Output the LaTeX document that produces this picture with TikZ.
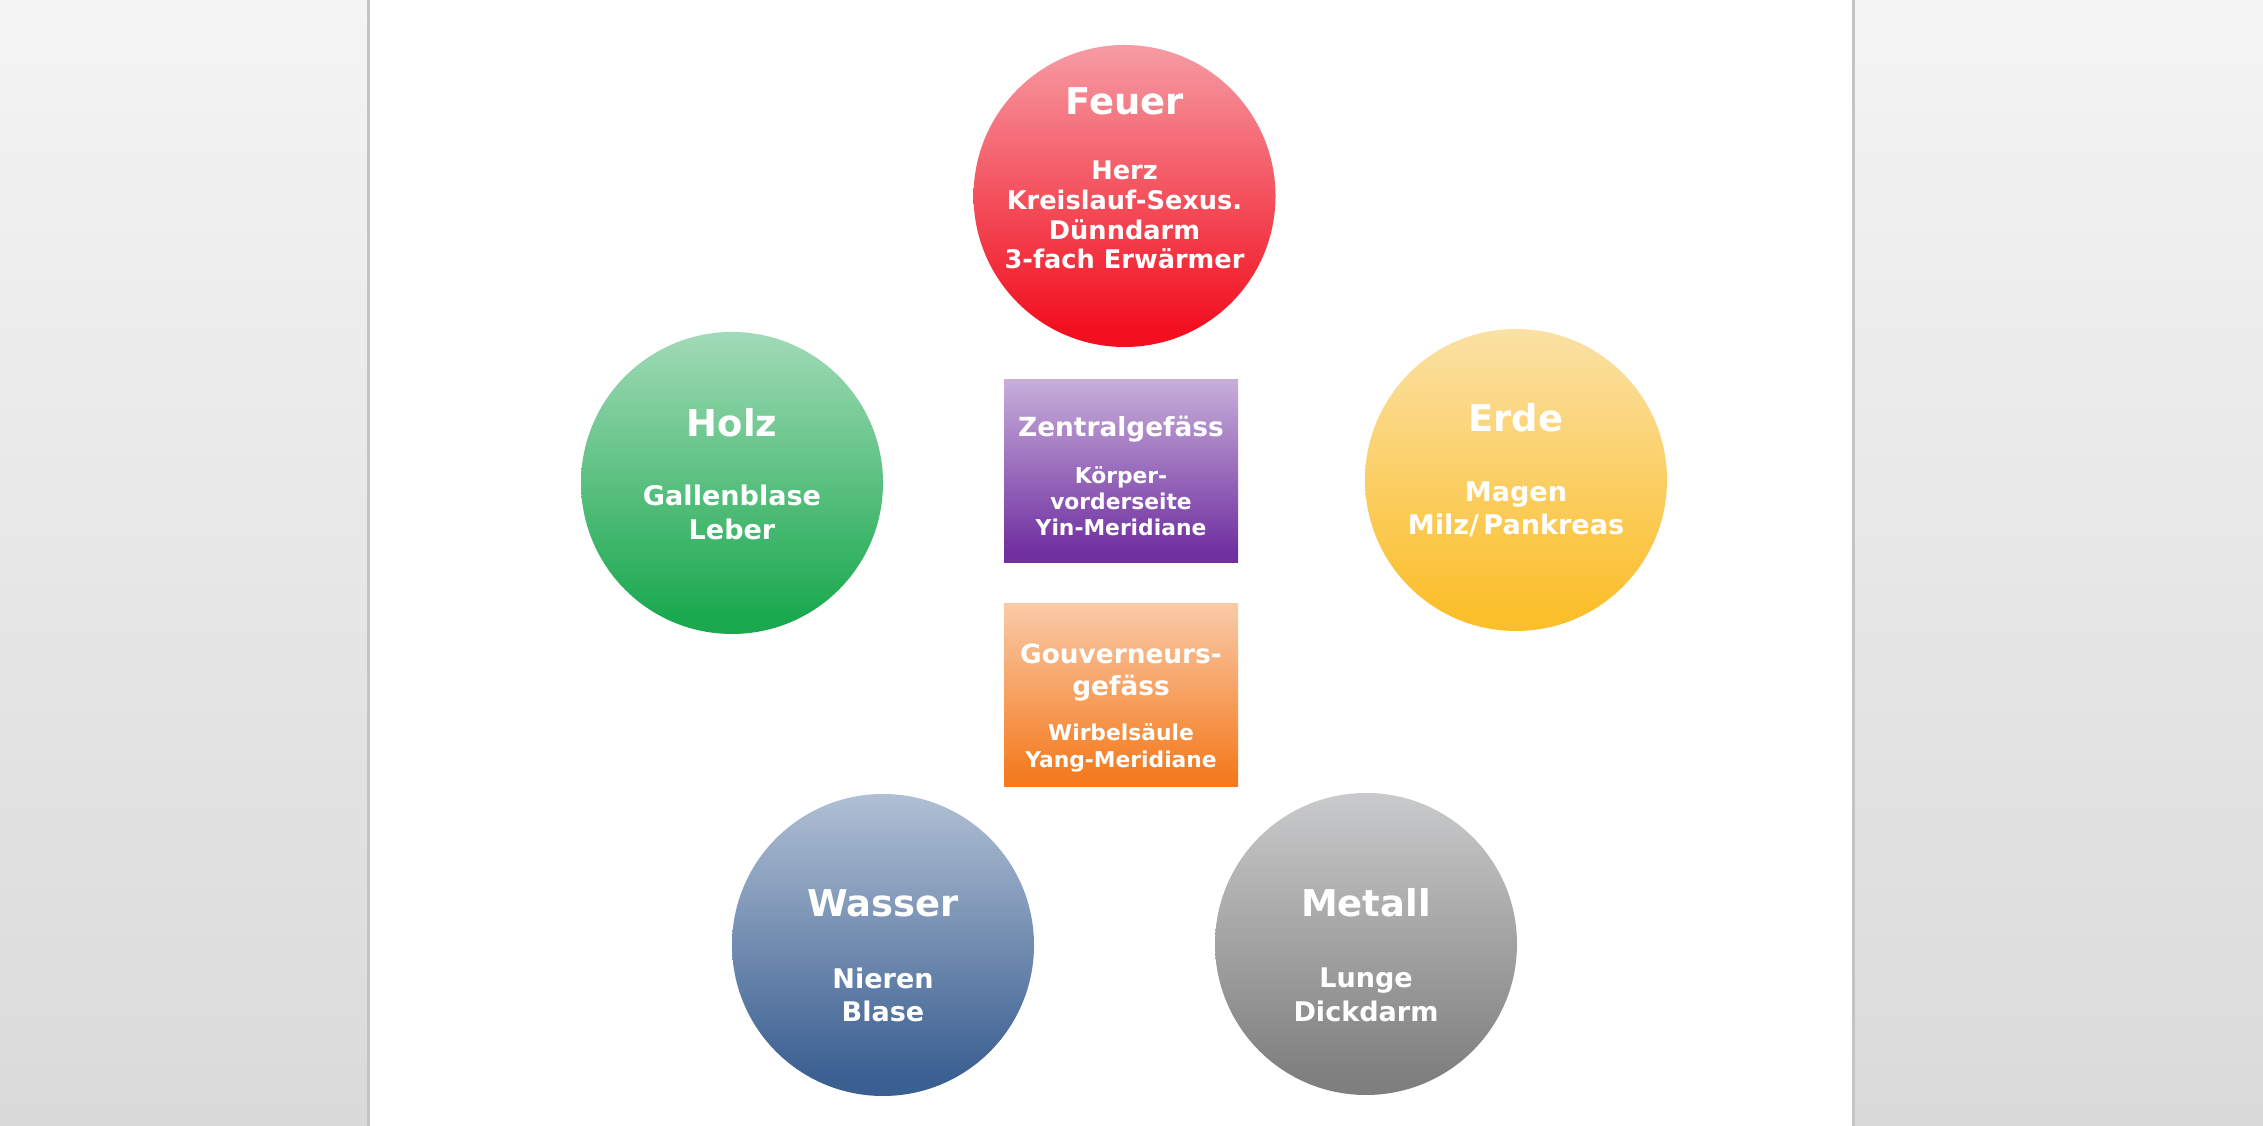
\documentclass[tikz,border=0pt]{standalone}
\usepackage{fontspec}
\setmainfont{DejaVu Sans}
\usetikzlibrary{positioning}
\definecolor{DeskTop}{HTML}{F4F4F4}
\definecolor{DeskBottom}{HTML}{DADADA}
\definecolor{PageEdge}{HTML}{C4C4C4}
\definecolor{FireRed}{HTML}{F20F1F}
\definecolor{FirePale}{HTML}{F8E6EA}
\definecolor{WoodGreen}{HTML}{1BA94F}
\definecolor{WoodPale}{HTML}{E8F4EE}
\definecolor{EarthYellow}{HTML}{FBBF2B}
\definecolor{EarthPale}{HTML}{FAF3E6}
\definecolor{WaterBlue}{HTML}{3A5F91}
\definecolor{WaterPale}{HTML}{EFF2F7}
\definecolor{MetalGray}{HTML}{7F7F7F}
\definecolor{MetalPale}{HTML}{F1F2F4}
\definecolor{YinPurple}{HTML}{7030A0}
\definecolor{YinPale}{HTML}{F5F1F9}
\definecolor{YangOrange}{HTML}{F47B20}
\definecolor{YangPale}{HTML}{FBF4EF}
\colorlet{elemtop}{white}
\colorlet{elembot}{black}
\pgfdeclareverticalshading[elemtop,elembot]{elemfade}{100bp}{color(0bp)=(elembot); color(28bp)=(elembot); color(100bp)=(elemtop)}

\begin{document}
\begin{tikzpicture}[
  elem/.style 2 args={circle, minimum size=6.04cm, inner sep=0pt, shade, shading=elemfade, /utils/exec={\colorlet{elemtop}{#1}\colorlet{elembot}{#2}}},
  vessel/.style 2 args={rectangle, minimum width=4.68cm, minimum height=3.66cm, inner sep=0pt, shade, shading=elemfade, /utils/exec={\colorlet{elemtop}{#1}\colorlet{elembot}{#2}}},
  elemtitle/.style={anchor=base, text=white, inner sep=0pt, font=\bfseries\fontsize{21}{25}\selectfont},
  elembody/.style 2 args={anchor=base, align=center, text=white, inner sep=0pt, font=\bfseries\fontsize{#1}{#2}\selectfont},
  vesseltitle/.style={anchor=base, align=center, text=white, inner sep=0pt, font=\bfseries\fontsize{15}{18.2}\selectfont},
  vesselbody/.style={anchor=base, align=center, text=white, inner sep=0pt, font=\bfseries\fontsize{12.4}{#1}\selectfont}
]
\useasboundingbox (0,0) rectangle (45.26,22.52);
% desk and page
\shade[top color=DeskTop, bottom color=DeskBottom] (0,0) rectangle (45.26,22.52);
\fill[white] (7.40,0) rectangle (37.04,22.52);
\draw[PageEdge, line width=0.05cm] (7.37,0) -- (7.37,22.52) (37.07,0) -- (37.07,22.52);

% five elements
\node[elem={FirePale}{FireRed}] (feuer) at (22.49,18.60) {};
\node[elem={WoodPale}{WoodGreen}] (holz) at (14.64,12.86) {};
\node[elem={EarthPale}{EarthYellow}] (erde) at (30.32,12.92) {};
\node[elem={WaterPale}{WaterBlue}] (wasser) at (17.66,3.62) {};
\node[elem={MetalPale}{MetalGray}] (metall) at (27.32,3.64) {};

% base of a multi-line node = last line
\node[elemtitle] (feuer-t) at ([yshift=1.62cm]feuer.center) {Feuer};
\node[elembody={14.6}{17}] (feuer-b) at ([yshift=-1.46cm]feuer.center) {Herz\\Kreislauf-Sexus.\\Dünndarm\\3-fach Erwärmer};
\node[elemtitle] (holz-t) at ([yshift=0.92cm]holz.center) {Holz};
\node[elembody={15.4}{19.9}] (holz-b) at ([yshift=-1.14cm]holz.center) {Gallenblase\\Leber};
\node[elemtitle] (erde-t) at ([yshift=0.96cm]erde.center) {Erde};
\node[elembody={15.4}{18.8}] (erde-b) at ([yshift=-1.10cm]erde.center) {Magen\\Milz/\,Pankreas};
\node[elemtitle] (wasser-t) at ([yshift=0.56cm]wasser.center) {Wasser};
\node[elembody={15.4}{19.3}] (wasser-b) at ([yshift=-1.54cm]wasser.center) {Nieren\\Blase};
\node[elemtitle] (metall-t) at ([yshift=0.54cm]metall.center) {Metall};
\node[elembody={15.4}{19.9}] (metall-b) at ([yshift=-1.56cm]metall.center) {Lunge\\Dickdarm};

% vessels
\node[vessel={YinPale}{YinPurple}] (zentral) at (22.42,13.09) {};
\node[vessel={YangPale}{YangOrange}] (gouv) at (22.42,8.61) {};

\node[vesseltitle] (zentral-t) at ([yshift=0.69cm]zentral.center) {Zentralgefäss};
\node[vesselbody=14.8] (zentral-b) at ([yshift=-1.29cm]zentral.center) {Körper-\\vorderseite\\Yin-Meridiane};
\node[vesseltitle] (gouv-t) at ([yshift=0.0cm]gouv.center) {Gouverneurs-\\gefäss};
\node[vesselbody=15.9] (gouv-b) at ([yshift=-1.45cm]gouv.center) {Wirbelsäule\\Yang-Meridiane};
\end{tikzpicture}
\end{document}
